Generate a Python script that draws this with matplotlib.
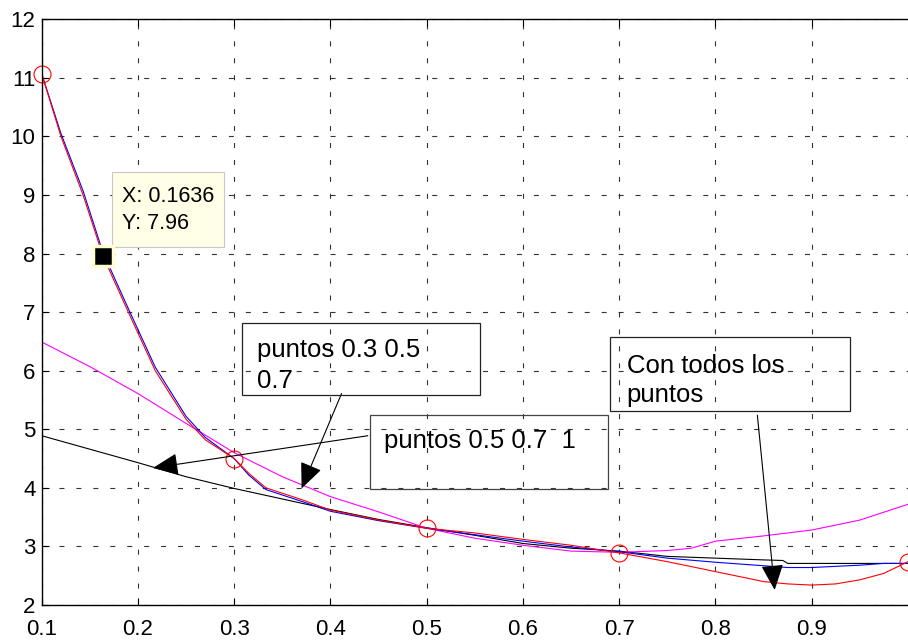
import matplotlib
matplotlib.use('Agg')
import matplotlib.pyplot as plt
from matplotlib.patches import Rectangle

plt.rcParams['font.family'] = ['Liberation Sans', 'DejaVu Sans']
plt.rcParams['lines.scale_dashes'] = False

# ---------------- data ----------------
x_red = [0.1, 0.12, 0.143, 0.1636, 0.19, 0.218, 0.25, 0.27, 0.285, 0.3, 0.315, 0.333,
         0.37, 0.4, 0.45, 0.5, 0.55, 0.6, 0.65, 0.7, 0.75, 0.8, 0.85, 0.875, 0.9,
         0.925, 0.95, 0.975, 1.0]
y_red = [11.07, 10.0, 9.0, 7.96, 7.0, 6.0, 5.17, 4.82, 4.66, 4.5, 4.25, 4.0,
         3.8, 3.62, 3.45, 3.31, 3.23, 3.12, 3.02, 2.89, 2.74, 2.57, 2.40, 2.36, 2.34,
         2.36, 2.43, 2.54, 2.74]

x_blue = x_red
y_blue = [11.07, 10.05, 9.07, 8.02, 7.06, 6.06, 5.22, 4.86, 4.68, 4.5, 4.22, 3.97,
          3.77, 3.6, 3.44, 3.31, 3.2, 3.09, 2.99, 2.91, 2.80, 2.73, 2.67, 2.64, 2.64,
          2.66, 2.68, 2.71, 2.71]

x_black = [0.1, 0.15, 0.2, 0.25, 0.3, 0.35, 0.4, 0.45, 0.5, 0.55, 0.6, 0.65,
           0.7, 0.75, 0.8, 0.85, 0.87, 0.875, 1.0]
y_black = [4.89, 4.66, 4.43, 4.19, 3.99, 3.81, 3.63, 3.46, 3.32, 3.19, 3.05, 2.97,
           2.92, 2.83, 2.80, 2.77, 2.76, 2.71, 2.71]

x_mag = [0.1, 0.15, 0.2, 0.25, 0.3, 0.35, 0.4, 0.45, 0.5, 0.55, 0.6, 0.65,
         0.7, 0.75, 0.775, 0.8, 0.85, 0.9, 0.95, 1.0]
y_mag = [6.49, 6.07, 5.61, 5.10, 4.60, 4.19, 3.85, 3.59, 3.31, 3.14, 3.02, 2.92,
         2.90, 2.93, 2.97, 3.09, 3.18, 3.28, 3.45, 3.72]

x_nodes = [0.1, 0.3, 0.5, 0.7, 1.0]
y_nodes = [11.07, 4.5, 3.31, 2.89, 2.74]

tip_x, tip_y = 0.1636, 7.96

x_ticks = [0.1, 0.2, 0.3, 0.4, 0.5, 0.6, 0.7, 0.8, 0.9]
x_ticklabels = ['0.1', '0.2', '0.3', '0.4', '0.5', '0.6', '0.7', '0.8', '0.9']
y_ticks = [2, 3, 4, 5, 6, 7, 8, 9, 10, 11, 12]

# ---------------- figure ----------------
W, H = 908, 640
AX_L, AX_R, AX_T, AX_B = 41.7, 908.0, 19.3, 605.0
fig = plt.figure(figsize=(W / 100, H / 100), dpi=100)
ax = fig.add_axes([AX_L / W, (H - AX_B) / H, (AX_R - AX_L) / W, (AX_B - AX_T) / H])


def fx(px):
    return (px - AX_L) / (AX_R - AX_L)


def fy(py):
    return (AX_B - py) / (AX_B - AX_T)


ax.set_xlim(0.1, 1.0)
ax.set_ylim(2, 12)
ax.set_xticks(x_ticks)
ax.set_xticklabels(x_ticklabels)
ax.set_yticks(y_ticks)
ax.grid(True, color='#333333', lw=0.8, linestyle=(0, (3.6, 8.6)))
ax.set_axisbelow(True)
ax.tick_params(axis='both', direction='in', length=5, width=0.8, top=True,
               right=False, labelsize=16, colors='k')
ax.tick_params(axis='x', pad=10)
ax.tick_params(axis='y', pad=4.5)
for s in ['left', 'bottom', 'top']:
    ax.spines[s].set_linewidth(1.0)
ax.spines['right'].set_visible(False)

lw = 0.8
ax.plot(x_black, y_black, color='k', lw=lw)
ax.plot(x_mag, y_mag, color='#FF00FF', lw=lw)
ax.plot(x_blue, y_blue, color='#0000FF', lw=lw)
ax.plot(x_red, y_red, color='#FF0000', lw=lw)
ax.plot(x_nodes, y_nodes, 'o', ms=12.2, mfc='none', mec='#FF0000', mew=0.8,
        clip_on=False)

# data tip
ax.plot([tip_x], [tip_y], 's', ms=14, mfc='k', mec='#FFFFD2', mew=2.5, zorder=5)
ax.add_patch(Rectangle((fx(112), fy(247)), fx(224) - fx(112), fy(172) - fy(247),
                       transform=ax.transAxes, facecolor='#FFFFE8',
                       edgecolor='#C8C8C8', lw=0.8, zorder=4))
ax.text(fx(122), fy(202.3), 'X: 0.1636', transform=ax.transAxes, fontsize=15.5,
        va='baseline', ha='left', zorder=6)
ax.text(fx(122), fy(229), 'Y: 7.96', transform=ax.transAxes, fontsize=15.5,
        va='baseline', ha='left', zorder=6)


# text boxes
def box(x0, y0, x1, y1, ec):
    ax.add_patch(Rectangle((fx(x0), fy(y1)), fx(x1) - fx(x0), fy(y0) - fy(y1),
                           transform=ax.transAxes, facecolor='none',
                           edgecolor=ec, lw=0.9, zorder=4))


box(241.7, 323.3, 480, 395, '#222222')
ax.text(fx(256.7), fy(357.3), 'puntos 0.3 0.5', transform=ax.transAxes,
        fontsize=18.5, va='baseline')
ax.text(fx(256.7), fy(388.3), '0.7', transform=ax.transAxes,
        fontsize=18.5, va='baseline')

box(370, 415, 608.3, 489, '#444444')
ax.text(fx(384), fy(448.3), 'puntos 0.5 0.7  1', transform=ax.transAxes,
        fontsize=18.5, va='baseline')

box(610, 336.7, 850, 411, '#222222')
ax.text(fx(626.7), fy(372.7), 'Con todos los', transform=ax.transAxes,
        fontsize=18.5, va='baseline')
ax.text(fx(626.7), fy(401.7), 'puntos', transform=ax.transAxes,
        fontsize=18.5, va='baseline')

# arrows
aprops = dict(arrowstyle='-|>,head_length=0.8,head_width=0.35', mutation_scale=20,
              lw=0.8, color='k', shrinkA=0, shrinkB=0)
ax.annotate('', xy=(0.2156, 4.34), xytext=(0.4388, 4.89), arrowprops=aprops)
ax.annotate('', xy=(0.370, 3.99), xytext=(0.4115, 5.61), arrowprops=aprops)
ax.annotate('', xy=(0.8615, 2.256), xytext=(0.8435, 5.24), arrowprops=aprops)

fig.savefig('out.png', dpi=100)
